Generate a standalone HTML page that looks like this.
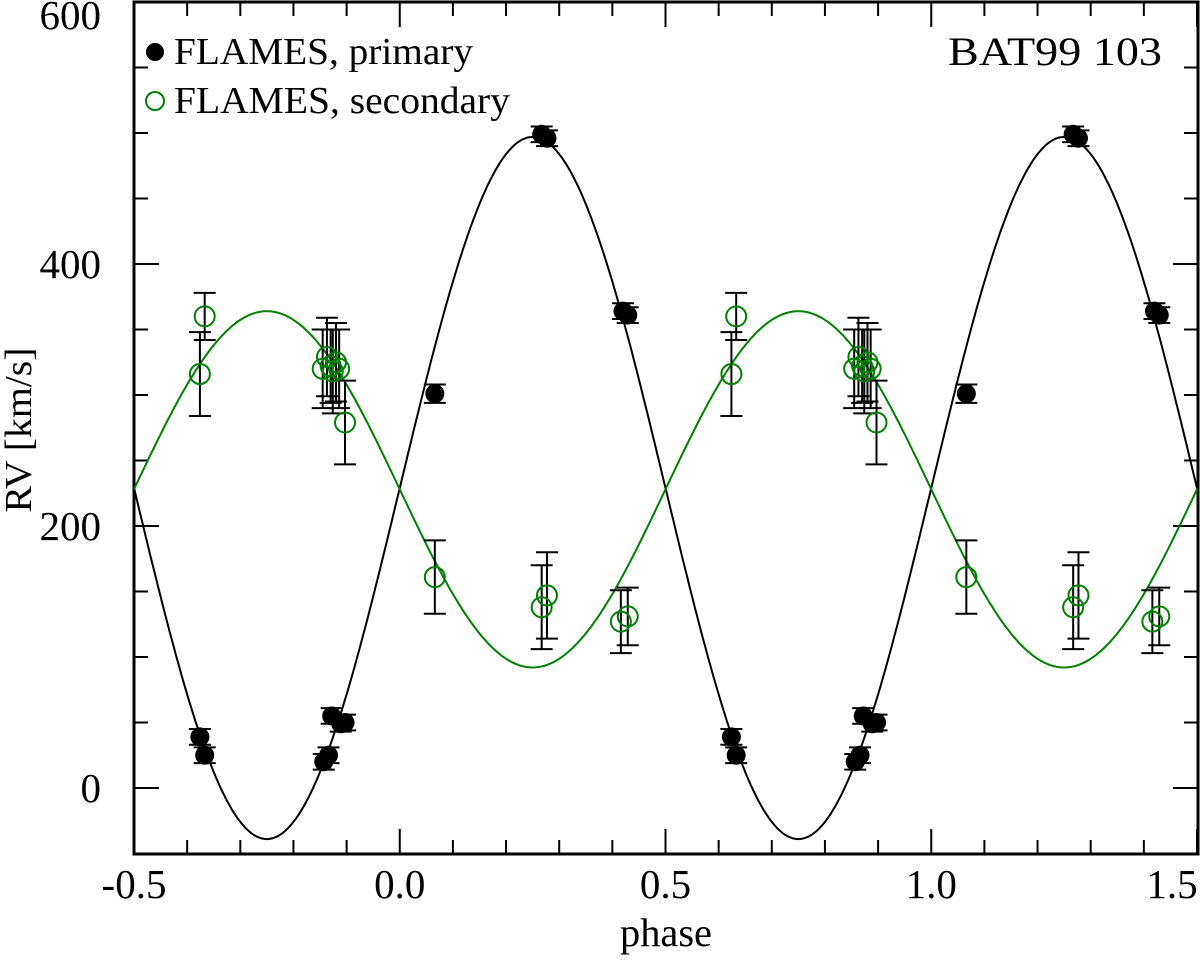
<!DOCTYPE html>
<html><head><meta charset="utf-8"><style>
body{margin:0;background:#fff}
svg text{font-family:"Liberation Serif",serif;fill:#000}
</style></head><body>
<svg id="chart" width="1200" height="957" xmlns="http://www.w3.org/2000/svg">
<text x="0" y="0" font-size="38" text-anchor="middle" textLength="165" lengthAdjust="spacingAndGlyphs" transform="translate(31,430) rotate(-90)">RV [km/s]</text>
<text x="666" y="946" font-size="40" text-anchor="middle" textLength="92" lengthAdjust="spacingAndGlyphs">phase</text>
<text x="1162" y="65" font-size="40" text-anchor="end" textLength="214" lengthAdjust="spacingAndGlyphs">BAT99 103</text>
<g>
<circle cx="155" cy="52" r="9" fill="#000"/>
<text x="174" y="64" font-size="38" textLength="299" lengthAdjust="spacingAndGlyphs">FLAMES, primary</text>
<circle cx="155" cy="101" r="9" fill="none" stroke="#008000" stroke-width="2"/>
<text x="174" y="113" font-size="38" textLength="336" lengthAdjust="spacingAndGlyphs">FLAMES, secondary</text>
</g>
</svg>
<script>
const xTicks=[-0.5,0.0,0.5,1.0,1.5];
const xTickLabels=["-0.5","0.0","0.5","1.0","1.5"];
const yTicks=[0,200,400,600];
const priPhase=[-0.376,-0.367,-0.143,-0.134,-0.128,-0.111,-0.103,0.066,0.267,0.277,0.420,0.429];
const priRV=[39,25,20,25,55,49,50,301,499,496,364,361];
const priErr=[6,6,6,6,6,6,6,7,6,6,6,6];
const secPhase=[-0.376,-0.367,-0.145,-0.137,-0.130,-0.126,-0.120,-0.114,-0.103,0.066,0.267,0.277,0.416,0.429];
const secRV=[316,360,320,329,322,318,325,320,279,161,138,147,127,131];
const secErr=[32,18,30,30,28,32,30,30,32,28,32,33,24,22];
const gamma1=229,K1=268,gamma2=228,K2=136;
const X=p=>134+(p+0.5)*531.5;
const Y=v=>788-v*1.31;
const svg=document.getElementById('chart');
const NS='http://www.w3.org/2000/svg';
function mk(tag,attrs,parent){const e=document.createElementNS(NS,tag);for(const k in attrs)e.setAttribute(k,attrs[k]);(parent||svg).appendChild(e);return e;}
const fr=mk('rect',{x:134,y:2,width:1064,height:852,fill:'none',stroke:'#000','stroke-width':3});


for(let i=0;i<=20;i++){const p=-0.5+i*0.1;const x=X(p);const L=(i%5==0)?25:14;
const t=mk('line',{x1:x,y1:854,x2:x,y2:854-L,stroke:'#000','stroke-width':2});


const t2=mk('line',{x1:x,y1:2,x2:x,y2:2+L,stroke:'#000','stroke-width':2});

}
xTicks.forEach((p,i)=>{let x=X(p);if(i==xTicks.length-1)x=1172;
const t=mk('text',{x:x,y:898,'font-size':41,'text-anchor':'middle'});t.textContent=xTickLabels[i];

});
for(let v=0;v<=600;v+=50){const y=Y(v);const L=(v%200==0)?25:14;
const t=mk('line',{x1:134,y1:y,x2:134+L,y2:y,stroke:'#000','stroke-width':2});


const t2=mk('line',{x1:1198,y1:y,x2:1198-L,y2:y,stroke:'#000','stroke-width':2});

}
yTicks.forEach(v=>{let y=Y(v)+14;if(v==600)y=29;
const t=mk('text',{x:101,y:y,'font-size':41,'text-anchor':'end'});t.textContent=String(v);

});
function curve(g,K,sign,color,name){let d='';for(let i=0;i<=400;i++){const p=-0.5+i*2/400;const v=g+sign*K*Math.sin(2*Math.PI*p);d+=(i?'L':'M')+X(p).toFixed(1)+','+Y(v).toFixed(1);}
const c=mk('path',{d:d,fill:'none',stroke:color,'stroke-width':2});

}
curve(gamma1,K1,1,'#000','primary-fit-curve');
curve(gamma2,K2,-1,'#008000','secondary-fit-curve');
function errbar(x,v,e,name){const g=mk('g',{stroke:'#000','stroke-width':2});


mk('line',{x1:x,y1:Y(v-e),x2:x,y2:Y(v+e)},g);
mk('line',{x1:x-11,y1:Y(v-e),x2:x+11,y2:Y(v-e)},g);
mk('line',{x1:x-11,y1:Y(v+e),x2:x+11,y2:Y(v+e)},g);}
for(const off of [0,1]){
secPhase.forEach((p,i)=>{errbar(X(p+off),secRV[i],secErr[i],'secondary-error-bar');});
secPhase.forEach((p,i)=>{const c=mk('circle',{cx:X(p+off),cy:Y(secRV[i]),r:10,fill:'none',stroke:'#008000','stroke-width':2});

});
priPhase.forEach((p,i)=>{errbar(X(p+off),priRV[i],priErr[i],'primary-error-bar');
const c=mk('circle',{cx:X(p+off),cy:Y(priRV[i]),r:9.5,fill:'#000'});

});
}
</script>
</body></html>
